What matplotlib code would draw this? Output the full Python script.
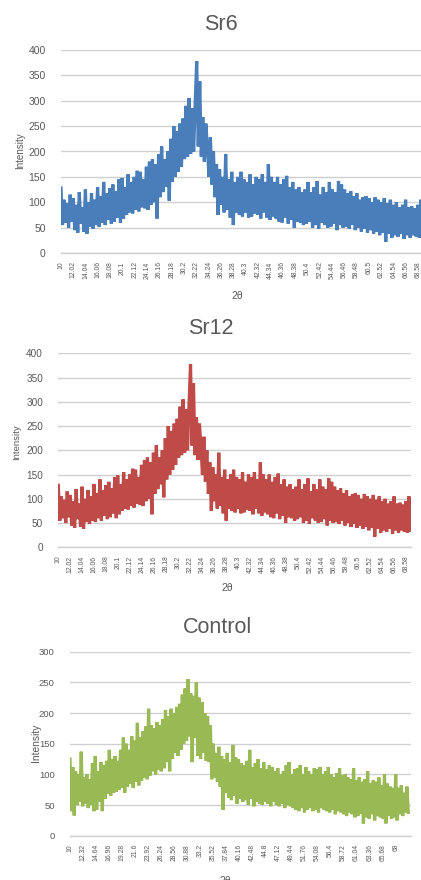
import numpy as np
import matplotlib
matplotlib.use("Agg")
import matplotlib.pyplot as plt

plt.rcParams['font.family'] = ['Liberation Sans', 'DejaVu Sans']

# ---------------- data (step 0.25 deg 2theta) ----------------
theta_start = 10.0
theta_step = 0.25

sr6_values = [
    128, 55, 105, 60,   98, 50, 115, 62,   108, 45, 95, 40,   120, 58, 90, 42,
    125, 38, 100, 52,   118, 48, 105, 55,  130, 52, 112, 60,  140, 55, 118, 65,
    128, 58, 135, 62,   122, 70, 145, 60,  148, 68, 130, 75,  155, 80, 140, 78,
    150, 85, 162, 82,   160, 90, 145, 88,  170, 85, 180, 95,  185, 100, 175, 68,
    195, 110, 210, 120, 185, 130, 200, 103, 225, 140, 250, 150, 240, 160, 255, 170,
    265, 185, 290, 190, 305, 195, 285, 200, 295, 378, 210, 338, 190, 268, 180, 255,
    210, 150, 228, 135, 200, 110, 175, 75, 165, 95, 150, 80,  195, 85, 145, 70,
    160, 55, 140, 80,   150, 75, 160, 72,  145, 80, 140, 70,  155, 72, 135, 78,
    150, 75, 145, 68,   155, 80, 140, 70,  175, 65, 150, 72,  140, 68, 150, 62,
    135, 60, 145, 70,   152, 58, 130, 65,  140, 50, 125, 62,  130, 60, 120, 55,
    125, 58, 140, 62,   120, 50, 130, 55,  142, 48, 115, 60,  130, 55, 120, 50,
    140, 52, 125, 58,   120, 45, 142, 55,  135, 50, 125, 52,  118, 48, 122, 55,
    112, 45, 118, 50,   105, 42, 110, 48,  112, 40, 108, 45,  100, 38, 110, 42,
    105, 35, 100, 40,   108, 22, 98, 38,   105, 30, 95, 35,   100, 32, 90, 38,
    95, 28, 105, 35,    90, 30, 92, 35,    88, 32, 95, 30,    105, 35,
]
sr12_values = [
    128, 55, 105, 60,   98, 50, 115, 62,   108, 45, 95, 40,   120, 58, 90, 42,
    125, 38, 100, 52,   118, 48, 105, 55,  130, 52, 112, 60,  140, 55, 118, 65,
    128, 58, 135, 62,   122, 70, 145, 60,  148, 68, 130, 75,  155, 80, 140, 78,
    150, 85, 162, 82,   160, 90, 145, 88,  170, 85, 180, 95,  185, 100, 175, 68,
    195, 110, 210, 120, 185, 130, 200, 103, 225, 140, 250, 150, 240, 160, 255, 170,
    265, 185, 290, 190, 305, 195, 285, 200, 295, 378, 210, 338, 190, 268, 180, 255,
    210, 150, 228, 135, 200, 110, 175, 75, 165, 95, 150, 80,  195, 85, 145, 70,
    160, 55, 140, 80,   150, 75, 160, 72,  145, 80, 140, 70,  155, 72, 135, 78,
    150, 75, 145, 68,   155, 80, 140, 70,  175, 65, 150, 72,  140, 68, 150, 62,
    135, 60, 145, 70,   152, 58, 130, 65,  140, 50, 125, 62,  130, 60, 120, 55,
    125, 58, 140, 62,   120, 50, 130, 55,  142, 48, 115, 60,  130, 55, 120, 50,
    140, 52, 125, 58,   120, 45, 142, 55,  135, 50, 125, 52,  118, 48, 122, 55,
    112, 45, 118, 50,   105, 42, 110, 48,  112, 40, 108, 45,  100, 38, 110, 42,
    105, 35, 100, 40,   108, 22, 98, 38,   105, 30, 95, 35,   100, 32, 90, 38,
    95, 28, 105, 35,    90, 30, 92, 35,    88, 32, 95, 30,    105, 35,
]
control_values = [
    125, 40, 112, 33,   105, 50, 100, 55,  137, 48, 95, 52,   100, 45, 92, 50,
    118, 40, 130, 42,   105, 55, 120, 40,  115, 60, 122, 68,  140, 65, 125, 70,
    130, 72, 122, 75,   140, 78, 160, 70,  150, 80, 140, 85,  162, 78, 155, 88,
    184, 82, 160, 90,   170, 95, 178, 92,  207, 98, 180, 105, 175, 100, 185, 108,
    180, 105, 190, 110, 205, 120, 195, 105, 207, 125, 200, 135, 210, 130, 215, 140,
    230, 150, 240, 155, 255, 162, 232, 120, 228, 160, 250, 130, 225, 125, 218, 135,
    200, 122, 195, 120, 180, 92, 150, 95,  135, 88, 145, 80,  130, 42, 125, 70,
    135, 62, 120, 58,   148, 65, 128, 52,  125, 60, 118, 55,  115, 58, 122, 50,
    140, 60, 112, 48,   118, 55, 125, 52,  110, 50, 120, 55,  108, 52, 115, 48,
    112, 55, 105, 50,   110, 48, 100, 52,  105, 45, 115, 50,  120, 48, 100, 45,
    108, 42, 110, 40,   115, 45, 100, 38,  112, 42, 105, 45,  100, 40, 110, 42,
    108, 38, 112, 45,   100, 42, 105, 40,  112, 38, 100, 42,  95, 35, 102, 40,
    110, 38, 98, 35,    100, 32, 95, 38,   92, 35, 110, 30,   90, 32, 95, 36,
    88, 20, 92, 30,     105, 28, 85, 35,   90, 25, 88, 32,    95, 30, 82, 28,
    100, 20, 85, 32,    80, 28, 78, 30,    100, 25, 78, 35,   82, 32, 70, 38,
    80, 38,
]

sr_tick_labels = ["10", "12.02", "14.04", "16.06", "18.08", "20.1", "22.12", "24.14",
                  "26.16", "28.18", "30.2", "32.22", "34.24", "36.26", "38.28", "40.3",
                  "42.32", "44.34", "46.36", "48.38", "50.4", "52.42", "54.44", "56.46",
                  "58.48", "60.5", "62.52", "64.54", "66.56", "68.58"]
control_tick_labels = ["10", "12.32", "14.64", "16.96", "19.28", "21.6", "23.92", "26.24",
                       "28.56", "30.88", "33.2", "35.52", "37.84", "40.16", "42.48", "44.8",
                       "47.12", "49.44", "51.76", "54.08", "56.4", "58.72", "61.04", "63.36",
                       "65.68", "68"]
sr_yticks = [0, 50, 100, 150, 200, 250, 300, 350, 400]
control_yticks = [0, 50, 100, 150, 200, 250, 300]

titles = ["Sr6", "Sr12", "Control"]
colors = ["#4a7ebb", "#be4b48", "#98b954"]

W, H = 421, 880
fig = plt.figure(figsize=(W / 100, H / 100), dpi=100)
fig.patch.set_facecolor("white")

TXT = "#595959"
GRID = "#d0d0d0"


def fx(px):
    return px / W


def fy(py):
    return 1 - py / H


def panel(values, color, title, tick_labels, yticks, left, right_px, top, bottom, xmax,
          ytick_size, title_xy, ylab_xy, ylab_size, xlab_xy):
    ax = fig.add_axes([fx(left), fy(bottom), (right_px - left) / W, (bottom - top) / H])
    x = theta_start + theta_step * np.arange(len(values))
    ax.plot(x, values, color=color, lw=2.3, solid_joinstyle="miter")
    ax.set_xlim(theta_start, xmax)
    ax.set_ylim(yticks[0], yticks[-1])
    ax.set_yticks(yticks)
    ax.set_yticklabels([str(v) for v in yticks])
    ax.grid(axis="y", color=GRID, lw=1.0)
    ax.set_axisbelow(True)
    tick_pos = [float(t) for t in tick_labels]
    ax.set_xticks(tick_pos)
    ax.set_xticklabels(tick_labels, rotation=90, fontsize=4.9, color=TXT, va="top")
    for s in ["top", "right", "left"]:
        ax.spines[s].set_visible(False)
    ax.spines["bottom"].set_color(GRID)
    ax.spines["bottom"].set_linewidth(1.0)
    ax.tick_params(axis="x", length=0, pad=6)
    ax.tick_params(axis="y", length=0, pad=11, labelsize=ytick_size, labelcolor=TXT)
    fig.text(fx(title_xy[0]), fy(title_xy[1]), title, fontsize=15.5, color=TXT,
             ha="center", va="baseline")
    fig.text(fx(ylab_xy[0]), fy(ylab_xy[1]), "Intensity", fontsize=ylab_size, color=TXT,
             rotation=90, ha="center", va="center")
    fig.text(fx(xlab_xy[0]), fy(xlab_xy[1]), "2θ", fontsize=7.5, color=TXT,
             ha="center", va="baseline")
    return ax


panel(sr6_values, colors[0], titles[0], sr_tick_labels, sr_yticks,
      left=61, right_px=61 + 59.3 * 6.099, top=50, bottom=253, xmax=69.3,
      ytick_size=7.5, title_xy=(221, 30), ylab_xy=(20, 151), ylab_size=7.1,
      xlab_xy=(237, 299))
panel(sr12_values, colors[1], titles[1], sr_tick_labels, sr_yticks,
      left=58.3, right_px=410.7, top=353.3, bottom=547.3, xmax=69.3,
      ytick_size=7.2, title_xy=(211, 334), ylab_xy=(17, 442.5), ylab_size=6.8,
      xlab_xy=(227, 591))
panel(control_values, colors[2], titles[2], control_tick_labels, control_yticks,
      left=70, right_px=410.7, top=651.7, bottom=835.7, xmax=70.67,
      ytick_size=6.8, title_xy=(218, 633), ylab_xy=(35.5, 743), ylab_size=7.4,
      xlab_xy=(225, 884))

fig.savefig("out.png", dpi=100, facecolor="white")
